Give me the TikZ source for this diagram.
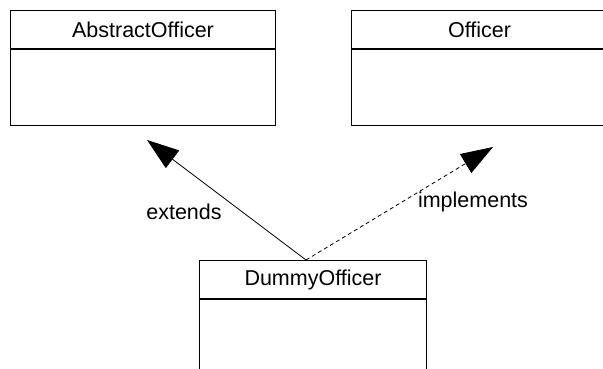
\documentclass[tikz,border=0pt]{standalone}
\usepackage{fontspec}
\setmainfont{Liberation Sans}
\usetikzlibrary{arrows.meta}
\begin{document}
\begin{tikzpicture}[x=1pt,y=-1pt,
  box/.style={draw=black,line width=1pt,inner sep=0pt,anchor=north west,font=\fontsize{21.5}{25}\selectfont},
  lbl/.style={inner sep=0pt,font=\fontsize{21.5}{25}\selectfont},
  rel/.style={line width=0.8pt,-{Triangle[length=32pt,width=22pt]}},
  realize/.style={rel,dash pattern=on 4pt off 3pt}]
\useasboundingbox (0,0) rectangle (603,369);
\clip (0,0) rectangle (603,369);
% AbstractOfficer
\node[box,minimum width=265pt,minimum height=38pt] (ao) at (10,10) {AbstractOfficer};
\node[box,minimum width=265pt,minimum height=76pt] (aob) at (ao.south west) {};
% Officer
\node[box,minimum width=256pt,minimum height=38pt] (of) at (351,10) {Officer};
\node[box,minimum width=256pt,minimum height=76pt] (ofb) at (of.south west) {};
% DummyOfficer
\node[box,minimum width=227pt,minimum height=38pt] (du) at (199,260) {DummyOfficer};
\node[box,minimum width=227pt,minimum height=120pt] (dub) at (du.south west) {};
% connectors
\coordinate (src) at (306,260);
\coordinate (extip) at (147,140);
\coordinate (imtip) at (493,147);
\draw[rel] (src) -- (extip);
\draw[realize] (src) -- (imtip);
\node[lbl] (ext) at (184,212) {extends};
\node[lbl] (imp) at (473,202) {implements};
\end{tikzpicture}
\end{document}
